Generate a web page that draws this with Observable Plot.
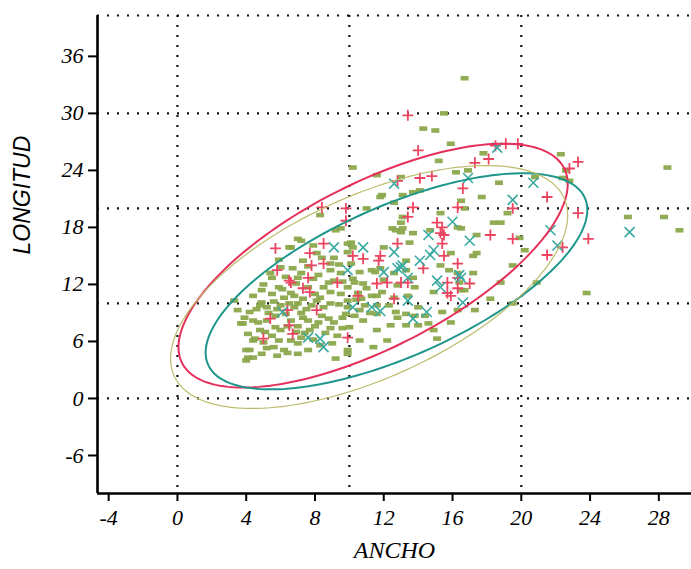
<!DOCTYPE html>
<html>
<head>
<meta charset="utf-8">
<script src="https://cdn.jsdelivr.net/npm/d3@7"></script>
<script src="https://cdn.jsdelivr.net/npm/@observablehq/plot@0.6"></script>
<style>
  html, body { margin: 0; padding: 0; background: #fff; }
</style>
</head>
<body>
<div id="chart"></div>
<script>
// Axis ticks, grid positions and scale extents
const xTicks = [-4, 0, 4, 8, 12, 16, 20, 24, 28];
const yTicks = [-6, 0, 6, 12, 18, 24, 30, 36];
const xGrid = [0, 10, 20];
const yGrid = [0, 10, 20, 30];
const xDomain = [-4.65, 29.9];
const yDomain = [-10, 40.3];

// Observations (ANCHO, LONGITUD), group drawn with short dashes
const dashPoints = [
  [16.7,33.7],[28.5,24.3],[29.2,17.7],[26.2,19.1],[28.3,19.1],[15.5,30.0],[14.3,28.4],[15.0,28.2],
  [22.3,25.7],[10.2,24.3],[23.8,11.1],[15.9,26.8],[15.2,25.0],[17.8,25.8],[16.2,23.8],[16.9,24.0],
  [13.7,21.7],[14.1,21.9],[18.7,22.7],[17.7,21.2],[16.5,20.8],[15.3,19.5],[19.2,19.5],[18.8,18.5],
  [18.4,18.5],[16.3,18.0],[17.4,17.2],[19.9,16.9],[22.4,23.2],[22.8,22.9],[13.0,23.3],[11.6,23.5],
  [11.8,21.2],[12.6,20.6],[11.0,20.0],[8.3,19.3],[7.0,16.8],[6.5,15.9],[9.9,16.3],[10.2,15.9],
  [13.1,19.1],[12.5,17.9],[13.1,17.9],[9.5,17.9],[9.2,17.7],[20.8,23.3],[16.7,20.0],[16.5,17.9],
  [17.2,15.0],[19.5,14.0],[16.3,13.2],[17.4,15.3],[20.2,15.6],[18.8,12.2],[17.2,13.2],[19.5,10.0],
  [20.9,12.2],[17.3,9.3],[18.2,10.5],[14.9,7.2],[15.1,6.3],[15.9,8.0],[13.8,8.7],[15.9,15.3],
  [16.7,11.4],[13.3,8.9],[14.4,8.7],[14.6,7.9],[14.0,7.7],[22.6,24.0],
  [6.6,15.9],[6.0,13.8],[6.7,13.7],[7.3,14.5],[8.9,13.5],[9.5,13.2],[10.6,13.3],[11.3,13.5],
  [9.9,11.7],[8.5,11.7],[7.0,12.7],[7.9,12.6],[5.9,11.7],[6.2,10.6],[7.3,10.5],[8.1,10.3],
  [8.9,10.0],[4.9,10.1],[5.2,9.6],[4.2,9.1],[3.5,9.3],[3.8,7.9],[4.4,8.2],[4.8,7.2],
  [4.1,6.8],[4.4,6.1],[5.7,7.5],[6.6,8.2],[7.3,8.5],[5.9,6.1],[5.6,5.4],[6.2,5.1],
  [7.0,5.8],[4.1,4.3],[4.2,5.1],[7.2,6.4],[7.7,7.2],[8.9,7.4],[9.3,6.6],[9.2,4.2],
  [9.9,5.1],[10.6,6.1],[10.8,8.2],[9.6,8.5],[10.6,9.3],[11.6,9.8],[12.8,8.5],[13.3,7.7],
  [12.4,7.7],[11.6,7.2],[12.2,6.1],[11.4,5.4],[10.5,11.1],[11.3,10.8],[12.6,10.6],[13.4,10.8],
  [12.6,13.2],[13.3,14.5],[12.0,15.9],[3.3,10.3],[4.4,10.8],[7.9,16.1],[5.4,13.2],[8.1,15.3],
  [9.1,14.8],[10.1,14.2],[10.2,12.6],[9.1,12.4],[7.6,11.7],[6.6,11.1],[5.7,8.7],[8.4,8.7],
  [9.9,10.3],[4.7,8.0],[4.5,6.3],[4.0,5.1],[4.4,4.3],[5.2,5.3],[5.8,4.5],[6.4,4.8],
  [4.8,9.8],[3.7,7.9],[4.0,4.0],[4.9,4.7],[7.0,4.7],[7.6,5.1],[9.0,5.8],[9.9,4.7],
  [7.2,16.6],[5.5,12.7],[4.9,11.4],[11.9,21.4],[13.1,21.4],[13.0,18.5],[12.7,17.7],[13.0,17.5],
  [13.7,17.4],[14.7,17.7],[13.5,16.4],[11.5,13.3],[11.8,13.7],[10.1,16.4],[9.9,15.4],[13.3,13.5],
  [13.7,12.7],[13.8,11.7],[15.3,14.0],[15.8,13.5],[16.4,12.2],[16.5,11.4],[14.9,11.2],[12.8,11.9],
  [10.3,12.2],[10.8,12.1],[11.6,10.8],[9.9,9.6],[11.6,8.9],[12.7,9.1],[14.0,9.6],[15.4,9.1],
  [16.3,9.3],[5.0,12.0],[5.5,11.0],[6.0,9.8],[6.8,9.6],[7.5,9.4],[8.5,9.6],[7.0,10.0],
  [6.3,12.8],[7.2,13.2],[8.2,13.0],[8.8,12.2],[9.5,11.0],[8.0,11.0],[6.8,10.8],[5.6,10.2],
  [6.3,8.9],[7.0,7.6],[8.2,8.0],[9.1,8.0],[8.6,6.9],[7.9,6.2],[6.9,7.0],[6.0,7.2],
  [5.2,8.2],[5.1,7.0],[10.0,7.5],[10.4,10.4],[11.0,11.6],[9.4,14.1],[8.4,14.8],[12.0,12.5],
  [11.2,9.0],[5.3,9.0],[5.8,9.4],[6.5,10.0],[7.2,9.0],[7.8,9.8],[8.3,10.6],[8.9,11.2],
  [9.4,9.9],[9.8,8.9],[7.6,8.2],[8.0,7.6],[8.8,8.4],[6.4,7.6],[5.5,6.6],[6.6,6.1],
  [7.4,6.9],[8.3,5.6],[9.6,7.4],[10.3,8.7],[10.9,9.8],[11.9,11.2],[12.3,9.8],[6.1,11.5],
  [6.9,12.1],[7.6,13.9],[8.9,14.2],[9.6,12.3],[10.7,10.5],[5.9,14.6],[4.6,9.4],[3.9,8.5],
  [5.0,5.9]
];

// Group drawn with plus signs
const plusPoints = [
  [13.4,29.8],[14.0,26.1],[17.3,24.8],[18.1,25.2],[18.5,26.6],[19.1,26.8],[19.8,26.8],[23.3,24.9],
  [22.8,24.2],[14.1,23.2],[14.8,23.4],[16.6,22.1],[21.5,21.2],[13.7,20.1],[16.3,20.1],[19.5,20.0],
  [23.3,19.5],[13.4,19.1],[15.1,18.5],[15.4,18.0],[18.2,17.2],[19.5,16.8],[23.9,16.8],[15.5,17.2],
  [21.5,15.1],[22.4,15.9],[16.3,14.2],[15.5,15.0],[12.8,22.9],[9.8,20.0],[9.8,18.7],[8.4,20.1],
  [8.5,16.3],[5.7,15.8],[12.8,16.3],[7.7,15.3],[7.8,14.0],[8.5,14.2],[5.8,13.5],[6.6,12.2],
  [7.3,11.6],[7.7,11.2],[9.3,12.2],[5.4,8.4],[6.5,7.7],[6.7,6.8],[7.6,12.7],[6.5,12.4],
  [6.4,9.3],[8.1,9.3],[9.9,6.4],[10.8,14.7],[10.2,15.0],[11.7,14.5],[11.6,12.1],[12.2,12.2],
  [13.0,12.2],[13.4,12.2],[11.8,15.0],[14.3,13.7],[16.3,12.7],[15.9,10.8],[16.3,11.6],[15.7,12.2],
  [12.6,10.5],[10.5,10.8],[17.0,12.1],[15.7,11.1],[5.0,6.3],[15.3,17.4],[15.4,16.3]
];

// Group drawn with diagonal crosses
const crossPoints = [
  [18.6,26.4],[16.9,23.2],[20.7,22.7],[19.5,20.9],[16.0,18.6],[14.6,17.2],[17.0,16.6],[22.1,16.1],
  [12.6,22.6],[9.1,15.9],[10.8,15.9],[26.3,17.5],[12.6,15.4],[13.1,14.0],[14.7,15.1],[14.1,14.5],
  [12.0,13.3],[15.1,12.4],[15.3,11.7],[16.4,13.0],[9.9,13.5],[10.2,9.6],[11.3,9.6],[13.4,10.3],
  [14.5,9.1],[16.6,10.1],[14.9,15.6],[16.5,12.7],[13.7,8.4],[13.4,12.7],[12.8,13.7],[11.8,9.2],
  [7.6,6.4],[8.3,6.3],[8.5,5.4],[6.1,9.1],[21.7,17.7],[13.0,13.8]
];

// Density ellipses: centre, semi-extent along each axis, and phase cosine
const ellipseNames = ["plus", "cross", "dash"];
const ellipseCx = [11.38, 12.74, 11.15];
const ellipseCy = [13.98, 12.33, 11.73];
const ellipseRx = [11.32, 11.10, 11.55];
const ellipseRy = [12.83, 11.37, 12.78];
const ellipseCosPhase = [0.669, 0.66, 0.59];

const colorDash = "#8ba84c";
const colorPlus = "#ec4561";
const colorCross = "#3aa9a0";
const ellipseStroke = ["#e5305a", "#1f968c", "#bcbc6c"];
const ellipseWidth = [2, 2, 1.2];

function ellipsePath(i) {
  const phi = Math.acos(ellipseCosPhase[i]);
  const n = 180;
  return d3.range(n + 1).map(k => {
    const t = (2 * Math.PI * k) / n;
    return {
      x: ellipseCx[i] + ellipseRx[i] * Math.cos(t),
      y: ellipseCy[i] + ellipseRy[i] * Math.cos(t - phi)
    };
  });
}

// Small filled bar used for the dash group
const dashSymbol = {
  draw(context) {
    context.rect(-4, -2.3, 8, 4.6);
  }
};

const dotted = { stroke: "#111", strokeWidth: 2.2, strokeDasharray: "2,8" };

const chart = Plot.plot({
  width: 691,
  height: 569,
  marginLeft: 97,
  marginRight: 0,
  marginTop: 15,
  marginBottom: 76,
  style: {
    fontFamily: "'Liberation Serif', 'Times New Roman', serif",
    fontStyle: "italic",
    fontSize: "22px",
    background: "#fff",
    color: "#000"
  },
  x: { domain: xDomain },
  y: { domain: yDomain },
  marks: [
    Plot.ruleX(xGrid, dotted),
    Plot.ruleY(yGrid, dotted),
    Plot.ruleY([yDomain[1]], dotted),
    Plot.dot(dashPoints, {
      x: d => d[0], y: d => d[1],
      symbol: dashSymbol, fill: colorDash, fillOpacity: 0.95, stroke: "none", r: 3
    }),
    Plot.dot(plusPoints, {
      x: d => d[0], y: d => d[1],
      symbol: "plus", stroke: colorPlus, strokeWidth: 1.8, r: 3.6
    }),
    Plot.dot(crossPoints, {
      x: d => d[0], y: d => d[1],
      symbol: "times", stroke: colorCross, strokeWidth: 1.6, r: 4.6
    }),
    ...ellipseNames.map((name, i) =>
      Plot.line(ellipsePath(i), {
        x: "x", y: "y",
        stroke: ellipseStroke[i], strokeWidth: ellipseWidth[i], curve: "linear"
      })
    ),
    Plot.ruleX([xDomain[0]], { stroke: "#000", strokeWidth: 2.6 }),
    Plot.ruleY([yDomain[0]], { stroke: "#000", strokeWidth: 2.6 }),
    Plot.axisX({
      ticks: xTicks, tickSize: 8, tickPadding: 8, strokeWidth: 2,
      tickFormat: d => String(d), label: null, fontSize: 22
    }),
    Plot.axisY({
      ticks: yTicks, tickSize: 9, tickPadding: 5, strokeWidth: 2,
      tickFormat: d => String(d), label: null, fontSize: 22
    }),
    Plot.text(["ANCHO"], {
      frameAnchor: "bottom", dy: 64, fontSize: 24, fill: "#000"
    }),
    Plot.text(["LONGITUD"], {
      frameAnchor: "left", dx: -75, rotate: -90, fontSize: 23, fill: "#000",
      fontFamily: "'Liberation Sans', Arial, sans-serif"
    })
  ]
});

document.getElementById("chart").appendChild(chart);
</script>
</body>
</html>
